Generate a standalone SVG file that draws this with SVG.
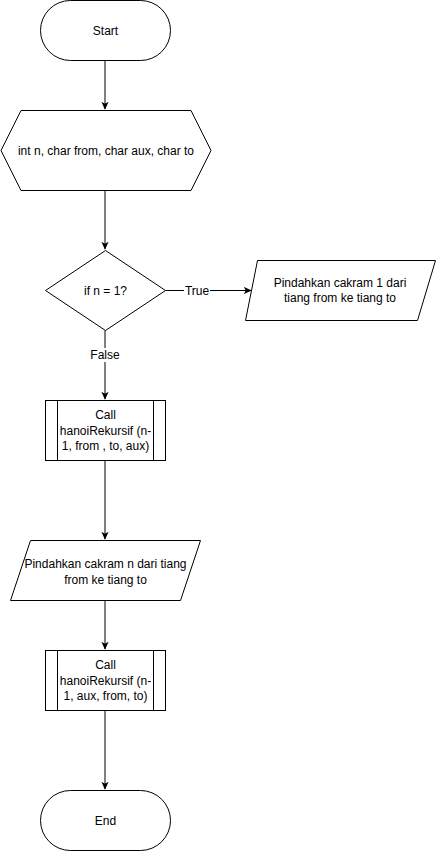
<svg xmlns="http://www.w3.org/2000/svg" width="437" height="852" viewBox="0 0 437 852">
<style>
.s{fill:#fff;stroke:#000;stroke-width:1}
.t{font-family:"Liberation Sans",Arial,sans-serif;font-size:12px;fill:#000;text-anchor:middle;dominant-baseline:central}
.e{fill:none;stroke:#000;stroke-width:1}
.lb{fill:#fff}
</style>
<defs>
<marker id="a" viewBox="0 0 10 10" refX="9" refY="5" markerWidth="8" markerHeight="8" markerUnits="userSpaceOnUse" orient="auto">
<path d="M0,0.5 L10,5 L0,9.5 L2.5,5 Z" fill="#000"/>
</marker>
</defs>
<rect width="437" height="852" fill="#fff"/>
<g id="connectors">
<path class="e" d="M105,60.5 V109" marker-end="url(#a)"/>
<path class="e" d="M105,190.5 V249" marker-end="url(#a)"/>
<path class="e" d="M165.5,290.5 H251" marker-end="url(#a)"/>
<path class="e" d="M105,330.5 V399" marker-end="url(#a)"/>
<path class="e" d="M105,460.5 V539" marker-end="url(#a)"/>
<path class="e" d="M105,600.5 V649" marker-end="url(#a)"/>
<path class="e" d="M105,710.5 V789" marker-end="url(#a)"/>
<rect class="lb" x="184" y="284" width="26" height="13"/>
<text class="t" x="197" y="290.5">True</text>
<rect class="lb" x="91" y="348" width="28" height="14"/>
<text class="t" x="105" y="355">False</text>
</g>
<g id="start">
<rect class="s" x="40.5" y="0.5" width="130" height="60" rx="30" ry="30"/>
<text class="t" x="105.5" y="30.5">Start</text>
</g>
<g id="input">
<polygon class="s" points="1,150.5 21,110.5 191,110.5 211,150.5 191,190.5 21,190.5"/>
<text class="t" x="106" y="150.5">int n, char from, char aux, char to</text>
</g>
<g id="decision">
<polygon class="s" points="105.5,250.5 165.5,290.5 105.5,330.5 45.5,290.5"/>
<text class="t" x="105.5" y="290.5">if n = 1?</text>
</g>
<g id="move1">
<polygon class="s" points="257.5,260.5 435.5,260.5 417.5,320.5 245.5,320.5"/>
<text class="t" x="340" y="283">Pindahkan cakram 1 dari</text>
<text class="t" x="340" y="298">tiang from ke tiang to</text>
</g>
<g id="call1">
<rect class="s" x="45.5" y="400.5" width="120" height="60"/>
<path class="e" d="M57.5,400.5 V460.5 M153.5,400.5 V460.5"/>
<text class="t" x="105.5" y="415">Call</text>
<text class="t" x="105.5" y="430.5">hanoiRekursif (n-</text>
<text class="t" x="105.5" y="446">1, from , to, aux)</text>
</g>
<g id="moven">
<polygon class="s" points="30.5,540.5 200.5,540.5 180.5,600.5 10.5,600.5"/>
<text class="t" x="105.5" y="564">Pindahkan cakram n dari tiang</text>
<text class="t" x="105.5" y="579.5">from ke tiang to</text>
</g>
<g id="call2">
<rect class="s" x="45.5" y="650.5" width="120" height="60"/>
<path class="e" d="M57.5,650.5 V710.5 M153.5,650.5 V710.5"/>
<text class="t" x="105.5" y="665">Call</text>
<text class="t" x="105.5" y="680.5">hanoiRekursif (n-</text>
<text class="t" x="105.5" y="696">1, aux, from, to)</text>
</g>
<g id="end">
<rect class="s" x="40.5" y="790.5" width="130" height="60" rx="30" ry="30"/>
<text class="t" x="105.5" y="820.5">End</text>
</g>
</svg>
